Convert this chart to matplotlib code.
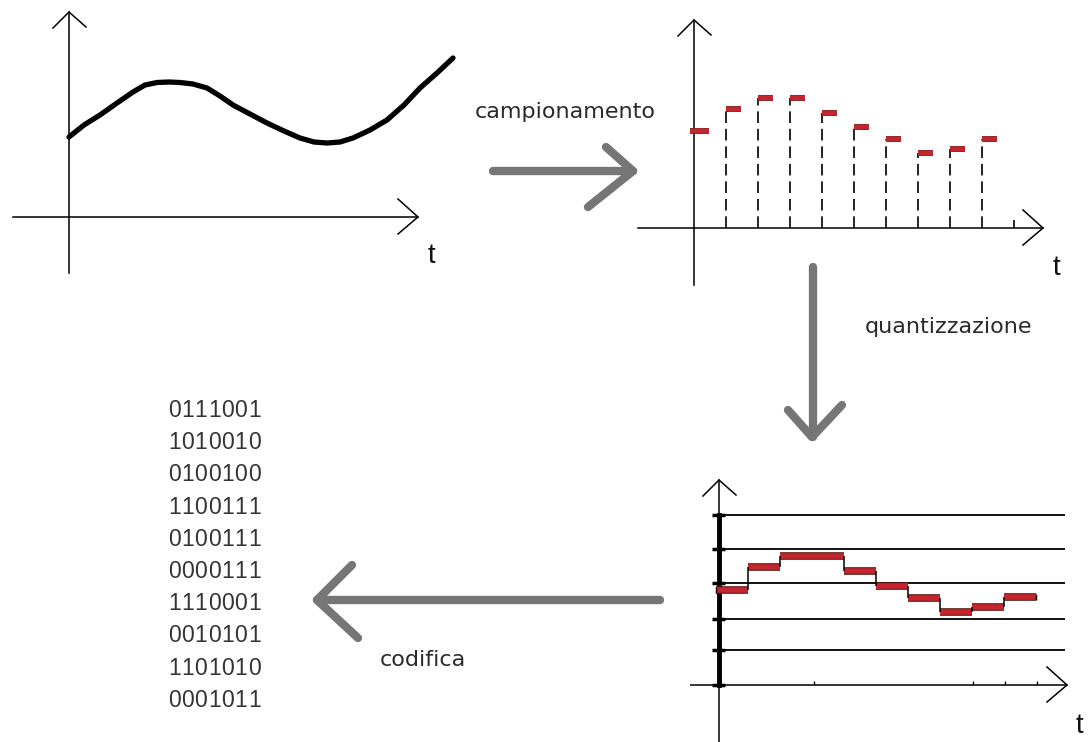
import numpy as np
import matplotlib
matplotlib.use("Agg")
import matplotlib.pyplot as plt
import matplotlib.patheffects as pe

# --- data (pixels above the time axis) ---
curve_t = [0, 15, 31, 48, 64, 76, 88, 100, 111, 124, 138, 151, 164, 181, 198,
           215, 231, 245, 258, 271, 284, 301, 318, 335, 351, 368, 384]
curve_v = [80, 92, 102, 114, 125, 132, 134.5, 135, 134.5, 133, 129, 121, 112, 103, 94,
           86, 79, 75, 74, 75, 79, 87, 97, 112, 129, 144, 159]

sampled = [97, 119, 130, 130, 115, 101, 89, 75, 79, 89]
quantized = [95, 118, 129, 129, 114, 99, 87, 73, 78, 88]
levels = [0, 35, 66, 102, 136, 170]

codes = ["0111001", "1010010", "0100100", "1100111", "0100111",
         "0000111", "1110001", "0010101", "1101010", "0001011"]

labels = ["campionamento", "quantizzazione", "codifica"]

W, H = 1088, 742
STEP = 32
GRAY = "#767676"
RED = "#c4262e"

fig = plt.figure(figsize=(W / 100, H / 100), dpi=100)
fig.patch.set_facecolor("white")

# overlay in pixel coordinates for arrows and labels
over = fig.add_axes([0, 0, 1, 1])
over.set_xlim(0, W)
over.set_ylim(H, 0)
over.axis("off")


def panel(left, top, width, height, ox, oy):
    """axes over a pixel box, 1 unit = 1 px, origin where the two axes cross"""
    ax = fig.add_axes([left / W, 1 - (top + height) / H, width / W, height / H])
    ax.set_xlim(left - ox, left + width - ox)
    ax.set_ylim(oy - (top + height), oy - top)
    ax.axis("off")
    ax.patch.set_alpha(0)
    return ax


def axes_lines(ax, x0, x1, y0, y1):
    ax.plot([x0, x1], [0, 0], color="black", lw=1.1)
    ax.plot([0, 0], [y0, y1], color="black", lw=1.1)
    # open chevrons
    ax.plot([x1 - 20, x1, x1 - 20], [18, 0, -17], color="black", lw=1.1)
    ax.plot([-16, 0, 17], [y1 - 16, y1, y1 - 15], color="black", lw=1.1)


# panel 1: continuous signal
ax1 = panel(0, 0, 470, 290, 69, 217)
axes_lines(ax1, -56, 349, -56, 205)
ax1.plot(curve_t, curve_v, color="black", lw=3.8, solid_capstyle="round",
         solid_joinstyle="round")

# panel 2: sampling
ax2 = panel(630, 0, 458, 290, 694, 228)
axes_lines(ax2, -56, 349, -57, 208)
t2 = np.arange(len(sampled)) * STEP
ax2.vlines(t2[1:], 0, sampled[1:], color="black", lw=1.2,
           linestyles=[(0, (7, 3.5))])
ax2.vlines([len(sampled) * STEP], 0, 8, color="black", lw=1.2)
dash_fx = [pe.Stroke(linewidth=4.2, foreground="#7a1a1e"), pe.Normal()]
ax2.hlines(sampled, t2, t2 + 15, color=RED, lw=3.2, path_effects=dash_fx)
ax2.hlines(sampled[0], -4, 0, color=RED, lw=3.2, path_effects=dash_fx)

# panel 3: quantization
ax3 = panel(690, 470, 398, 272, 719, 685)
axes_lines(ax3, -29, 348, -57, 205)
ax3.plot([0, 0], [0, levels[-1]], color="black", lw=3.5)
ax3.hlines(levels[1:], 6, 346, color="black", lw=1.3)
ax3.hlines(levels, -7, 6, color="black", lw=2.5)
ax3.vlines([95, 254, 286, 318], 0, 4, color="black", lw=1)
x0 = np.arange(len(quantized)) * STEP - 3
ax3.hlines(quantized, x0, x0 + STEP, color=RED, lw=4,
           path_effects=[pe.Stroke(linewidth=5.5, foreground="#5a1414"), pe.Normal()])
ax3.vlines(x0[1:], quantized[:-1], quantized[1:], color="black", lw=1.1)
ax3.vlines([x0[0], x0[-1] + STEP], [q - 3 for q in (quantized[0], quantized[-1])],
           [q + 3 for q in (quantized[0], quantized[-1])], color="black", lw=1)

# arrows
arrow_kw = dict(color=GRAY, lw=6, solid_capstyle="round", solid_joinstyle="round")
over.plot([493, 633], [171, 171], **arrow_kw)
over.plot([606, 633, 588], [147, 171, 207], **arrow_kw)
over.plot([813, 813], [267, 437], **arrow_kw)
over.plot([788, 812, 842], [410, 437, 405], **arrow_kw)
over.plot([660, 317], [600, 600], **arrow_kw)
over.plot([352, 317, 358], [565, 600, 638], **arrow_kw)

# labels
lab_kw = dict(fontsize=16, family="DejaVu Sans", color="#2a2a2a", va="baseline")
over.text(475, 118, labels[0], **lab_kw)
over.text(865, 333, labels[1], **lab_kw)
over.text(380, 666, labels[2], **lab_kw)

t_kw = dict(fontsize=20, family="Liberation Sans", color="#111111", va="baseline")
over.text(428, 263, "t", **t_kw)
over.text(1053, 275, "t", **t_kw)
over.text(1076, 733, "t", **t_kw)

# binary words, one digit per cell so every digit has the same width
for i, code in enumerate(codes):
    for j, ch in enumerate(code):
        over.text(168 + j * 13.3, 417 + i * 32.2, ch, fontsize=16.5,
                  family="Liberation Sans", color="#333333", va="baseline")

fig.savefig("out.png", dpi=100)
